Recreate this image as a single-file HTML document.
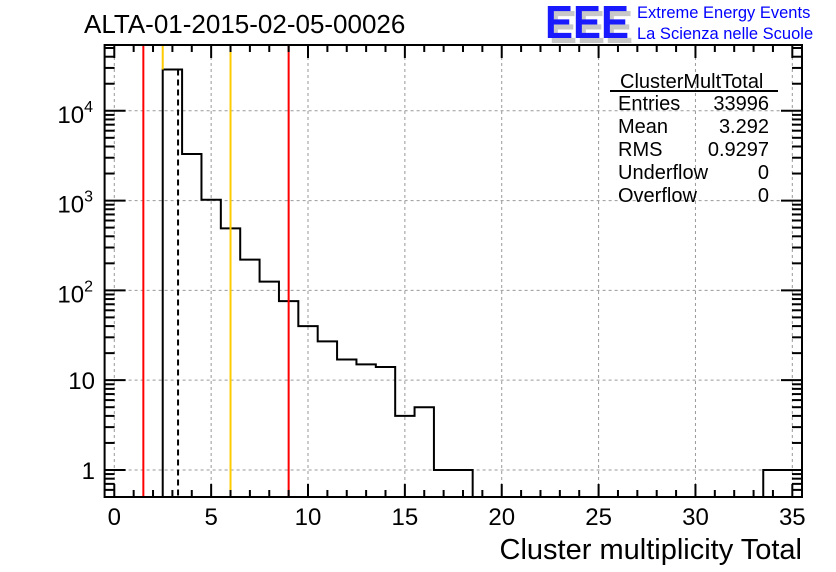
<!DOCTYPE html>
<html><head><meta charset="utf-8"><style>
html,body{margin:0;padding:0;background:#fff;width:836px;height:572px;overflow:hidden}
svg text{font-family:"Liberation Sans",Arial,sans-serif}
</style></head><body>
<svg id="c" width="836" height="572" xmlns="http://www.w3.org/2000/svg">
<text x="84" y="33" font-size="26">ALTA-01-2015-02-05-00026</text>
<g>
<text x="549" y="43" font-size="46" fill="#c8c8c8" font-weight="bold" textLength="84" lengthAdjust="spacingAndGlyphs">EEE</text>
<text x="545" y="38" font-size="46" fill="#1a1aff" font-weight="bold" textLength="84" lengthAdjust="spacingAndGlyphs">EEE</text>
<text x="637" y="18" font-size="16.5" fill="#0000ff">Extreme Energy Events</text>
<text x="637" y="39" font-size="16.5" fill="#0000ff">La Scienza nelle Scuole</text>
</g>
<g id="grid"></g>
<g id="marks"></g>
<g id="axes"></g>
<g font-size="20">
<text x="620" y="88">ClusterMultTotal</text>
<line x1="610" y1="91" x2="778" y2="91" stroke="#000" stroke-width="2"/>
<text x="618" y="110">Entries</text><text x="769" y="110" text-anchor="end">33996</text>
<text x="618" y="133">Mean</text><text x="769" y="133" text-anchor="end">3.292</text>
<text x="618" y="156">RMS</text><text x="769" y="156" text-anchor="end">0.9297</text>
<text x="618" y="179">Underflow</text><text x="769" y="179" text-anchor="end">0</text>
<text x="618" y="202">Overflow</text><text x="769" y="202" text-anchor="end">0</text>
</g>
<text x="802" y="559" font-size="29" text-anchor="end">Cluster multiplicity Total</text>
</svg>
<script>
const binCenters=[3,4,5,6,7,8,9,10,11,12,13,14,15,16,17,18,34,35];
const binCounts=[28800,3300,1020,490,220,125,76,40,27,17,15,14,4,5,1,1,1,1];
const xTicks=[0,5,10,15,20,25,30,35];
const yDecades=[1,10,100,1000,10000];
const yTickLabels=["1","10","10^2","10^3","10^4"];
const redLines=[1.5,9];
const yellowLines=[2.5,6];
const meanLine=[3.292];
const NS="http://www.w3.org/2000/svg";
const L=104.6,R=802,T=45,B=497,X0=-0.5,X1=35.5,YMIN=0.5,YMAX=54000;
const xs=v=>L+(v-X0)/(X1-X0)*(R-L);
const ys=v=>B-(Math.log10(v)-Math.log10(YMIN))/(Math.log10(YMAX)-Math.log10(YMIN))*(B-T);
function mk(p,t,a){const e=document.createElementNS(NS,t);for(const k in a)e.setAttribute(k,a[k]);p.appendChild(e);return e;}
const grid=document.getElementById('grid'),marks=document.getElementById('marks'),axes=document.getElementById('axes');
xTicks.forEach(v=>{const l=mk(grid,'line',{x1:xs(v),x2:xs(v),y1:T,y2:B,stroke:'#999','stroke-dasharray':'3,3'});

});
yDecades.forEach(v=>{const l=mk(grid,'line',{x1:L,x2:R,y1:ys(v),y2:ys(v),stroke:'#999','stroke-dasharray':'3,3'});

});
let d='M'+L+','+B;let prev=null;
binCenters.forEach((c,i)=>{const x0=xs(c-0.5),x1=xs(c+0.5),y=ys(binCounts[i]);
if(prev===null||prev!==c-1){d+=' L'+x0+','+B;}
d+=' L'+x0+','+y+' L'+x1+','+y;
const nxt=binCenters[i+1];if(nxt!==c+1)d+=' L'+x1+','+B;prev=c;});
const h=mk(marks,'path',{d:d,fill:'none',stroke:'#000','stroke-width':2});


redLines.forEach(v=>{const l=mk(marks,'line',{x1:xs(v),x2:xs(v),y1:T,y2:B,stroke:'#ff0000','stroke-width':2});

});
yellowLines.forEach(v=>{const l=mk(marks,'line',{x1:xs(v),x2:xs(v),y1:T,y2:v===2.5?ys(binCounts[0]):B,stroke:'#ffcc00','stroke-width':2});

});
meanLine.forEach(v=>{const l=mk(marks,'line',{x1:xs(v),x2:xs(v),y1:ys(binCounts[0]),y2:B,stroke:'#000','stroke-width':2,'stroke-dasharray':'6,4'});

});
const fr=mk(axes,'rect',{x:L,y:T,width:R-L,height:B-T,fill:'none',stroke:'#000','stroke-width':2});


for(let v=0;v<=35;v++){const len=v%5===0?13:7;
mk(axes,'line',{x1:xs(v),x2:xs(v),y1:B,y2:B-len,stroke:'#000','stroke-width':2});
mk(axes,'line',{x1:xs(v),x2:xs(v),y1:T,y2:T+len,stroke:'#000','stroke-width':2});}
xTicks.forEach(v=>{const t=mk(axes,'text',{x:xs(v),y:525,'font-size':24,'text-anchor':'middle'});t.textContent=v;

});
for(let dec=0.1;dec<=10000;dec*=10){for(let m=1;m<=9;m++){const v=dec*m;if(v<YMIN||v>YMAX)continue;
const len=m===1?21:10;
mk(axes,'line',{x1:L,x2:L+len,y1:ys(v),y2:ys(v),stroke:'#000','stroke-width':2});
mk(axes,'line',{x1:R,x2:R-len,y1:ys(v),y2:ys(v),stroke:'#000','stroke-width':2});}}
yDecades.forEach((v,i)=>{const lab=yTickLabels[i];const y=ys(v)+9;let t;
if(lab.indexOf('^')>0){const p=lab.split('^');t=mk(axes,'text',{x:93,y:y+3,'font-size':24,'text-anchor':'end'});
t.innerHTML=p[0]+'<tspan dy="-11" font-size="16">'+p[1]+'</tspan>';}
else{t=mk(axes,'text',{x:95,y:y,'font-size':24,'text-anchor':'end'});t.textContent=lab;}

});
</script>
</body></html>
